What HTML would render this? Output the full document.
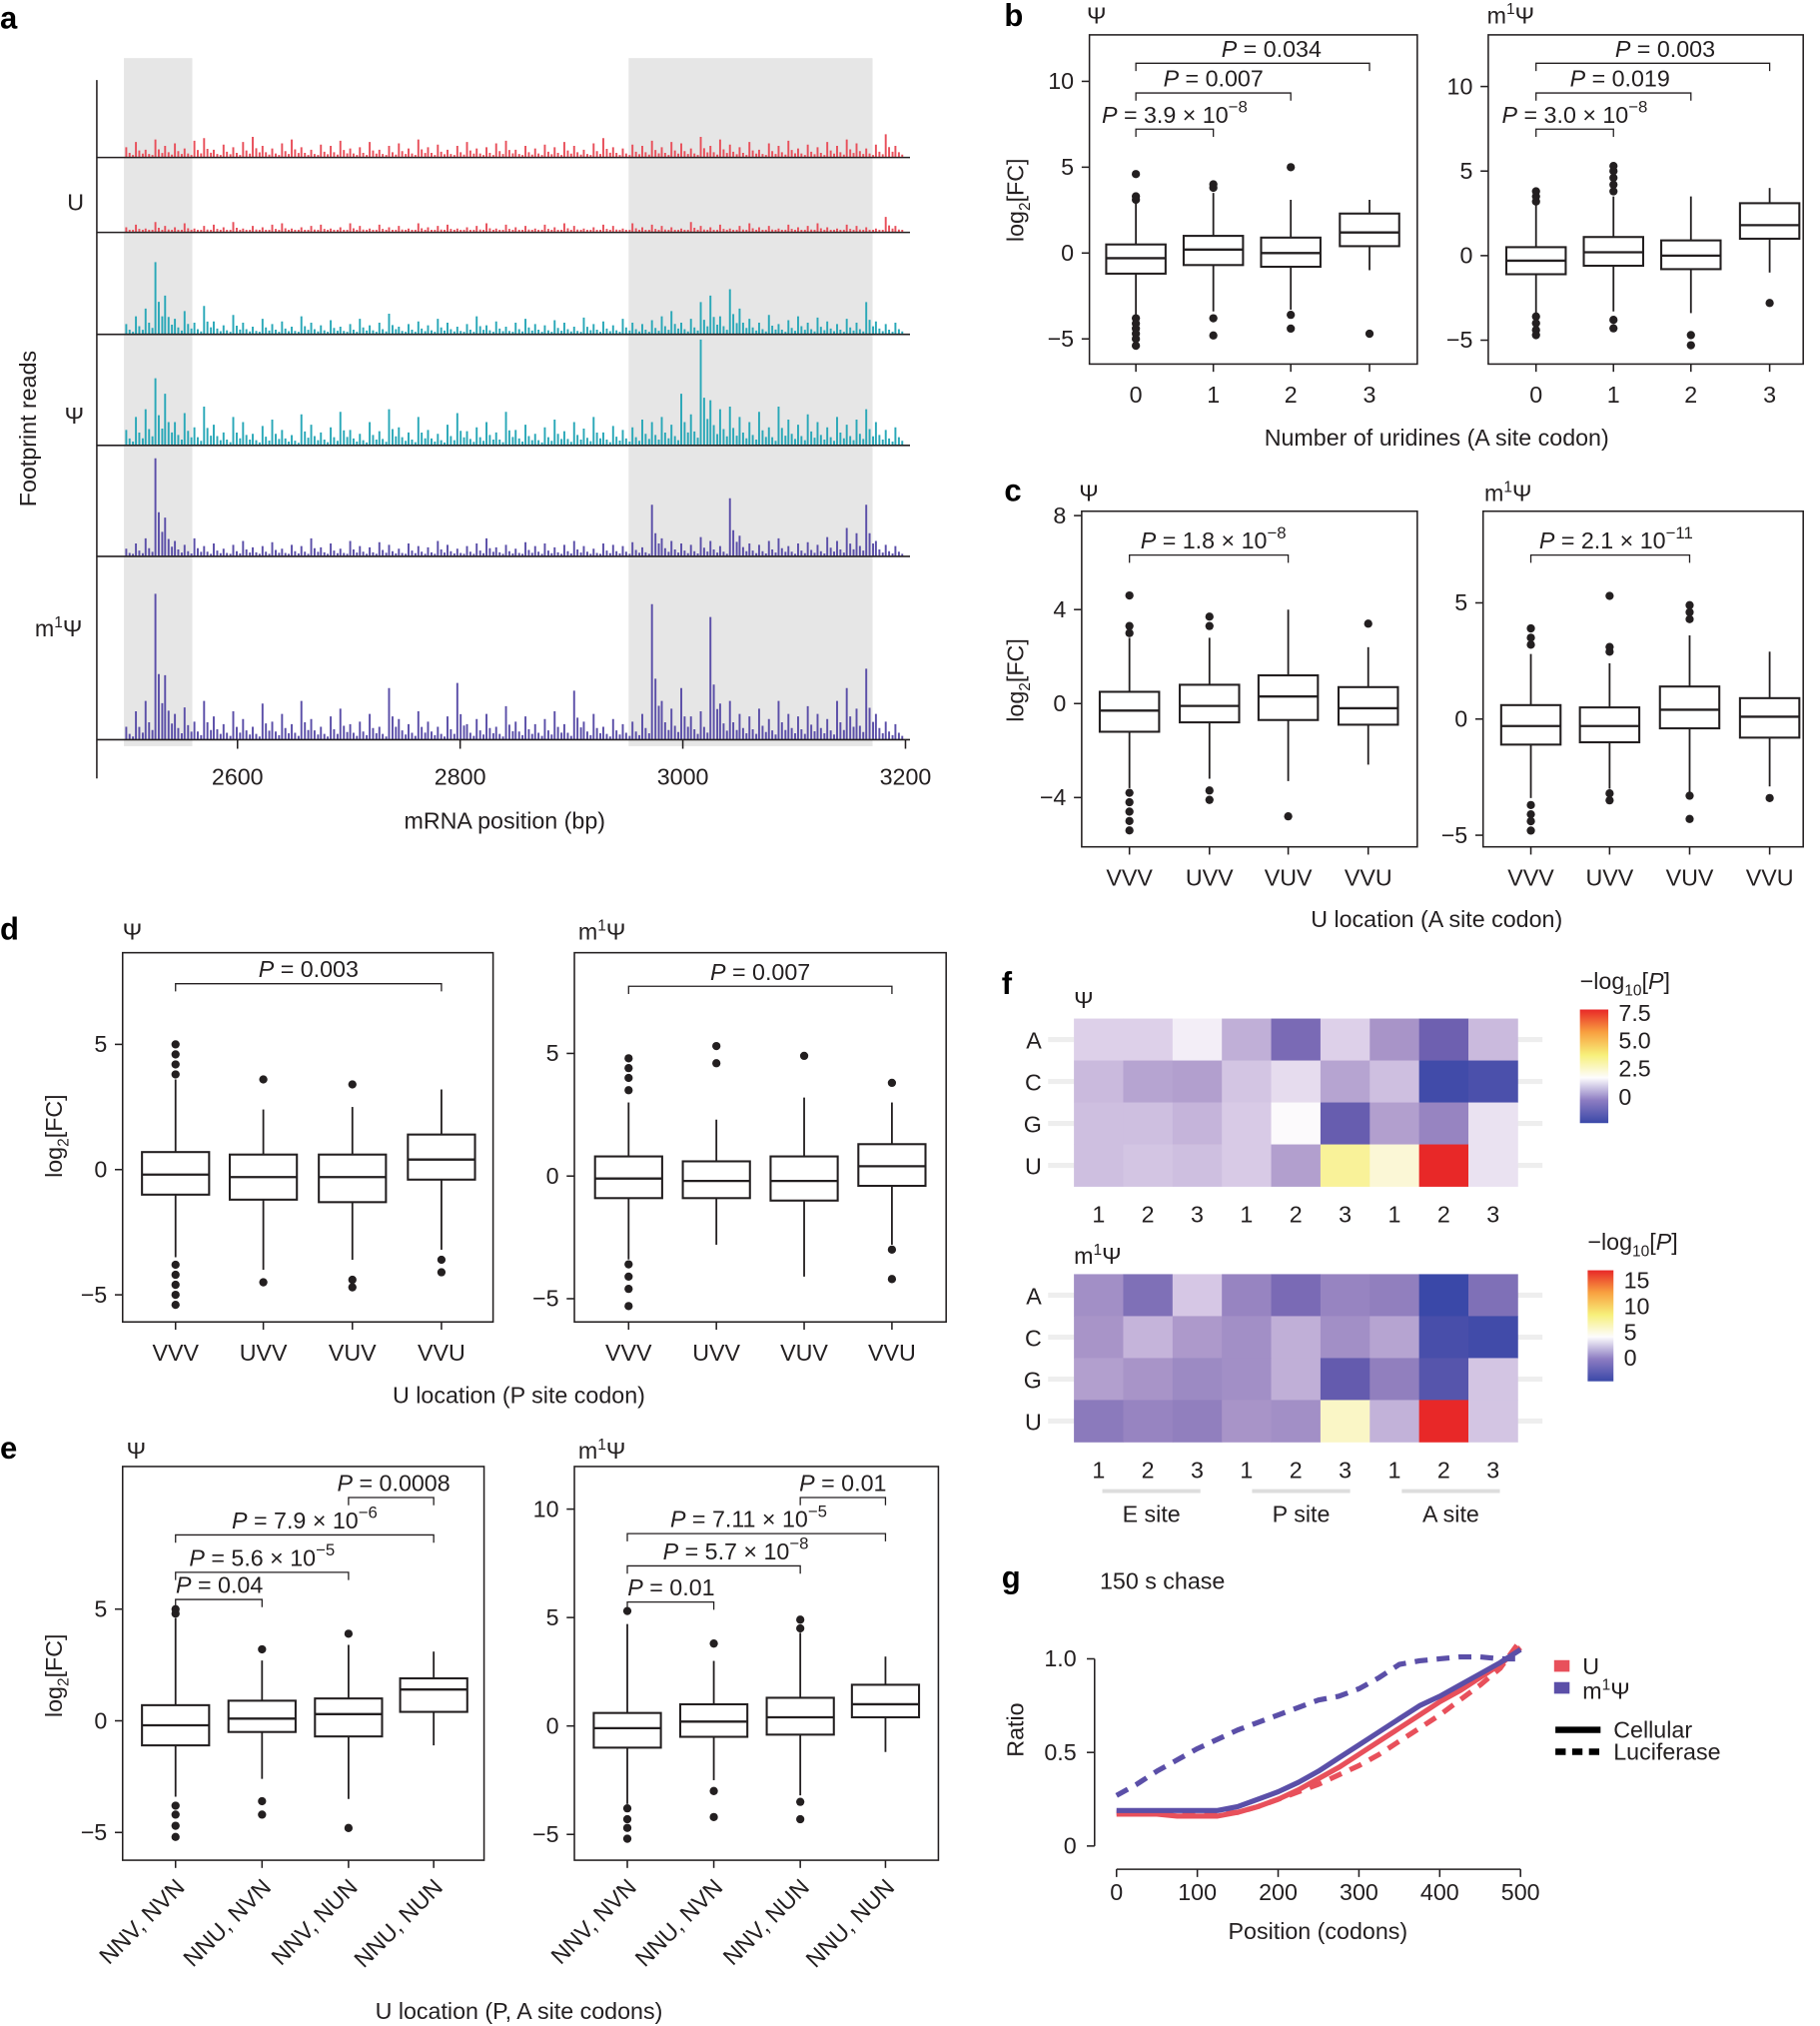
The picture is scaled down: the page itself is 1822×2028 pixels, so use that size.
<!DOCTYPE html>
<html><head><meta charset="utf-8">
<style>
html,body{margin:0;padding:0;background:#fff;}
svg{display:block;font-family:"Liberation Sans",sans-serif;}
</style></head>
<body>
<svg id="fig" width="1822" height="2028" viewBox="0 0 1410 1569.4" xmlns="http://www.w3.org/2000/svg"></svg>
<script>
// ---------- DATA ----------
const trackStart = 2500, trackEnd = 3191;
const trackU1 = [8,12,6,14,9,11,7,13,15,6,10,8,12,16,9,7,11,14,8,6,10,9,13,7,8,12,6,9,11,7,14,8,10,6,9,12,7,8,11,13,6,9,7,10,8,12,9,6,11,15,8,7,10,9,13,8,12,11,7,16,9,14,10,8,12,6,11,9,13,7,10,8,12,9,14,11,7,10,18,9];
const trackU2 = [4,6,3,8,5,4,7,3,5,6,4,8,3,5,4,6,7,3,4,5,6,3,4,7,5,3,6,4,5,3,7,4,5,6,3,4,5,7,3,6,4,5,3,6,4,7,5,3,4,6,5,3,7,4,6,5,4,3,8,5,4,6,3,5,7,4,5,3,6,4,5,7,4,3,6,5,4,3,12,5];
const trackPsi1 = [8,14,20,56,30,12,18,9,22,10,7,15,9,6,12,8,10,6,14,9,7,11,6,8,12,7,9,16,6,8,10,7,12,9,6,8,14,7,10,6,9,12,8,7,11,9,6,13,8,10,7,12,9,8,11,14,18,9,12,25,30,14,35,20,12,9,15,8,11,14,9,13,10,8,12,9,25,10,8,9];
const trackPsi2 = [12,22,28,52,40,18,25,14,30,16,10,22,18,9,15,20,12,8,24,16,10,14,26,12,9,18,11,28,14,10,22,12,9,16,25,11,14,18,10,26,12,16,9,14,20,11,18,13,22,10,15,12,14,20,18,22,16,40,24,82,35,28,30,22,18,26,14,30,20,16,24,18,14,22,16,20,28,18,12,14];
const trackPsi3 = [6,10,14,76,30,12,9,14,8,10,6,9,12,7,8,11,6,9,8,14,7,10,6,12,8,7,11,9,6,10,8,7,12,9,6,8,10,14,7,9,6,11,8,10,7,9,12,8,6,10,9,8,11,7,40,14,12,10,9,15,12,8,45,16,10,9,12,14,8,10,11,9,15,12,22,18,40,12,9,8];
const trackPsi4 = [10,22,30,113,50,20,25,14,30,18,12,22,16,10,28,14,20,12,30,16,10,18,24,12,14,20,10,40,16,12,22,14,10,18,44,12,16,20,10,26,14,18,12,16,22,12,38,14,20,10,16,12,14,20,105,30,24,40,18,22,95,28,30,20,18,24,16,30,20,18,26,20,16,30,40,24,55,20,14,12];
const boxCats4 = ["0","1","2","3"];
const boxCatsVU = ["VVV","UVV","VUV","VVU"];
const boxCatsPA = ["NNV, NVN","NNU, NVN","NNV, NUN","NNU, NUN"];
// stats: [lowWhisker, q1, median, q3, highWhisker]
const bPsiStats = [[-3.6,-1.2,-0.3,0.5,3.0],[-3.4,-0.7,0.2,1.0,3.5],[-3.3,-0.8,0.0,0.9,3.1],[-1.0,0.4,1.2,2.3,3.1]];
const bPsiOut = [[3.1,3.3,4.6,-3.8,-4.1,-4.4,-4.7,-5.0,-5.4],[3.8,4.0,-3.8,-4.8],[5.0,-3.6,-4.4],[-4.7]];
const bM1Stats = [[-3.4,-1.1,-0.3,0.5,3.0],[-3.3,-0.6,0.2,1.1,3.5],[-3.4,-0.8,0.0,0.9,3.5],[-1.0,1.0,1.8,3.1,4.0]];
const bM1Out = [[3.2,3.5,3.8,-3.6,-4.0,-4.4,-4.7],[3.8,4.2,4.6,5.0,5.3,-3.8,-4.3],[-4.7,-5.3],[-2.8]];
const cPsiStats = [[-3.6,-1.2,-0.3,0.5,2.8],[-3.2,-0.8,-0.1,0.8,2.8],[-3.3,-0.7,0.3,1.2,4.0],[-2.6,-0.9,-0.2,0.7,2.4]];
const cPsiOut = [[3.0,3.3,4.6,-3.8,-4.2,-4.6,-5.0,-5.4],[3.3,3.7,-3.7,-4.1],[-4.8],[3.4]];
const cM1Stats = [[-3.4,-1.1,-0.3,0.6,2.8],[-3.0,-1.0,-0.3,0.5,2.4],[-3.2,-0.4,0.4,1.4,3.6],[-2.9,-0.8,0.1,0.9,2.9]];
const cM1Out = [[3.2,3.5,3.9,-3.7,-4.1,-4.4,-4.8],[2.9,3.1,5.3,-3.2,-3.5],[4.3,4.6,4.9,-3.3,-4.3],[-3.4]];
const dPsiStats = [[-3.5,-1.0,-0.2,0.7,3.6],[-4.0,-1.2,-0.3,0.6,2.4],[-3.6,-1.3,-0.3,0.6,2.5],[-3.2,-0.4,0.4,1.4,3.2]];
const dPsiOut = [[3.8,4.2,4.6,5.0,-3.8,-4.2,-4.6,-5.0,-5.4],[3.6,-4.5],[3.4,-4.4,-4.7],[-3.6,-4.1]];
const dM1Stats = [[-3.4,-0.9,-0.1,0.8,3.0],[-2.8,-0.9,-0.2,0.6,2.3],[-4.1,-1.0,-0.2,0.8,3.2],[-2.8,-0.4,0.4,1.3,3.0]];
const dM1Out = [[3.5,4.0,4.4,4.8,-3.6,-4.1,-4.6,-5.3],[4.6,5.3],[4.9],[3.8,-3.0,-4.2]];
const ePsiStats = [[-3.4,-1.1,-0.2,0.7,4.6],[-2.6,-0.5,0.1,0.9,2.7],[-3.5,-0.7,0.3,1.0,3.4],[-1.1,0.4,1.4,1.9,3.1]];
const ePsiOut = [[4.8,5.0,-3.8,-4.2,-4.7,-5.2],[3.2,-3.6,-4.2],[3.9,-4.8],[]];
const eM1Stats = [[-3.6,-1.0,-0.1,0.6,4.7],[-2.5,-0.5,0.2,1.0,3.0],[-3.2,-0.4,0.4,1.3,4.3],[-1.2,0.4,1.0,1.9,3.2]];
const eM1Out = [[5.3,-3.8,-4.3,-4.7,-5.2],[3.8,-3.0,-4.2],[4.5,4.9,-3.5,-4.3],[]];
const heatRows = ["A","C","G","U"];
const heatCols = ["1","2","3","1","2","3","1","2","3"];
const heatPsi = [[0.6,0.6,1.1,0.0,-1.3,0.6,-0.5,-1.5,0.2],[0.2,-0.2,-0.3,0.4,0.8,-0.2,0.3,-2.8,-2.5],[0.3,0.3,0.1,0.5,1.3,-1.7,-0.3,-0.8,0.9],[0.3,0.4,0.3,0.5,-0.3,2.6,1.8,7.5,0.9]];
const heatM1 = [[-0.6,-1.2,0.9,-0.8,-1.3,-0.8,-0.9,-3.0,-1.2],[-0.5,0.2,-0.4,-0.6,0.0,-0.6,-0.2,-2.6,-2.8],[-0.3,-0.5,-0.7,-0.6,0.0,-1.8,-0.9,-2.2,0.8],[-1.0,-0.8,-0.9,-0.5,-0.6,4.0,0.1,15,0.8]];
const chasePos = [0,25,50,75,100,125,150,175,200,225,250,275,300,325,350,375,400,425,450,475,500];
const chaseM1Luc = [0.27,0.33,0.40,0.46,0.52,0.57,0.62,0.66,0.70,0.74,0.78,0.80,0.84,0.90,0.97,0.99,1.00,1.01,1.01,1.00,1.00];
const chaseM1Cell = [0.19,0.19,0.19,0.19,0.19,0.19,0.21,0.25,0.29,0.34,0.40,0.47,0.54,0.61,0.68,0.75,0.80,0.86,0.92,0.98,1.05];
const chaseUCell = [0.17,0.17,0.17,0.16,0.16,0.16,0.18,0.21,0.25,0.30,0.36,0.42,0.49,0.56,0.63,0.70,0.77,0.83,0.90,0.97,1.06];
const chaseULuc = [0.18,0.18,0.18,0.18,0.17,0.17,0.18,0.21,0.25,0.29,0.33,0.38,0.43,0.49,0.56,0.63,0.70,0.78,0.86,0.95,1.10];

// ---------- HELPERS ----------
const NS="http://www.w3.org/2000/svg";
const svg=document.getElementById('fig');
function mk(tag,attrs,parent){const e=document.createElementNS(NS,tag);for(const k in attrs)e.setAttribute(k,attrs[k]);(parent||svg).appendChild(e);return e;}
function txt(x,y,s,opts,parent){const o=Object.assign({x:x,y:y,'font-size':18,fill:'#231f20'},opts||{});const e=mk('text',o,parent);e.textContent=s;return e;}
const INK='#231f20';
function pLabel(x,y,mant,exp,parent){
  const t=mk('text',{x:x,y:y,'font-size':18,fill:INK,'text-anchor':'middle'},parent);
  const a=document.createElementNS(NS,'tspan');a.setAttribute('font-style','italic');a.textContent='P';t.appendChild(a);
  const b=document.createElementNS(NS,'tspan');b.textContent=' = '+mant+(exp?' × 10':'');t.appendChild(b);
  if(exp){const c=document.createElementNS(NS,'tspan');c.setAttribute('dy','-8');c.setAttribute('font-size',13);c.textContent=exp;t.appendChild(c);}
  return t;
}
function panelLetter(x,y,s){const e=txt(x,y,s,{'font-size':24,'font-weight':'bold',fill:'#000'});

}

function boxPanel(name,frame,yTicks,y0,pxPerUnit,catX,cats,stats,outs,bw,brackets,title,labelRot){
  const g=mk('g',{});
  
  
  const ys=v=>y0-v*pxPerUnit;
  const fr=mk('rect',{x:frame[0],y:frame[1],width:frame[2]-frame[0],height:frame[3]-frame[1],fill:'none',stroke:INK,'stroke-width':1.2},g);
  
  
  yTicks.forEach(v=>{
    const y=ys(v);
    mk('line',{x1:frame[0]-6,x2:frame[0],y1:y,y2:y,stroke:INK,'stroke-width':1.2},g);
    const t=txt(frame[0]-12,y+6,v<0?'−'+(-v):String(v),{'text-anchor':'end'},g);
    
    
  });
  cats.forEach((c,i)=>{
    const cx=catX[i];
    mk('line',{x1:cx,x2:cx,y1:frame[3],y2:frame[3]+6,stroke:INK,'stroke-width':1.2},g);
    let t;
    if(labelRot){t=txt(cx+8,frame[3]+22,c,{'text-anchor':'end',transform:'rotate(-45 '+(cx+8)+' '+(frame[3]+22)+')'},g);}
    else t=txt(cx,frame[3]+30,c,{'text-anchor':'middle'},g);
    
    
    const s=stats[i];
    const bg=mk('g',{},g);
    
    
    mk('line',{x1:cx,x2:cx,y1:ys(s[0]),y2:ys(s[1]),stroke:INK,'stroke-width':1.4},bg);
    mk('line',{x1:cx,x2:cx,y1:ys(s[3]),y2:ys(s[4]),stroke:INK,'stroke-width':1.4},bg);
    mk('rect',{x:cx-bw/2,y:ys(s[3]),width:bw,height:ys(s[1])-ys(s[3]),fill:'#fff',stroke:INK,'stroke-width':1.6},bg);
    mk('line',{x1:cx-bw/2,x2:cx+bw/2,y1:ys(s[2]),y2:ys(s[2]),stroke:INK,'stroke-width':1.8},bg);
    outs[i].forEach(v=>{mk('circle',{cx:cx,cy:ys(v),r:3.2,fill:INK},bg);});
  });
  brackets.forEach(b=>{
    const x1=catX[b[0]],x2=catX[b[1]],y=b[2];
    const p=mk('path',{d:`M${x1},${y+6}V${y}H${x2}V${y+6}`,fill:'none',stroke:INK,'stroke-width':1},g);
    
    
    const t=pLabel(b[5]!==undefined?b[5]:(x1+x2)/2,y-5,b[3],b[4],g);
    
    
  });
  const tt=txt(title[1],title[2],'',{'font-size':18},g);
  if(title[0]==='psi'){tt.textContent='Ψ';}
  else{tt.textContent='m';const s1=document.createElementNS(NS,'tspan');s1.setAttribute('dy','-7');s1.setAttribute('font-size',12);s1.textContent='1';tt.appendChild(s1);const s2=document.createElementNS(NS,'tspan');s2.setAttribute('dy','7');s2.textContent='Ψ';tt.appendChild(s2);}
  
  
}
function ylab(x,y){const t=mk('text',{x:0,y:0,'font-size':18,fill:INK,'text-anchor':'middle',transform:`translate(${x},${y}) rotate(-90)`});
  t.textContent='log';const s=document.createElementNS(NS,'tspan');s.setAttribute('dy','5');s.setAttribute('font-size',12);s.textContent='2';t.appendChild(s);
  const s2=document.createElementNS(NS,'tspan');s2.setAttribute('dy','-5');s2.textContent='[FC]';t.appendChild(s2);
  
  }
function xlab(x,y,s){const t=txt(x,y,s,{'text-anchor':'middle'});
  
  }

// ---------- PANEL A ----------
panelLetter(0,22,'a');
const xa=bp=>184+(bp-2600)*0.8625;
const ga=mk('g',{});


[[96,149],[487,676]].forEach(r=>{const e=mk('rect',{x:r[0],y:45,width:r[1]-r[0],height:533,fill:'#e6e6e6'},ga);

});
const tracks=[[trackU1,122,'#e8505b'],[trackU2,180,'#e8505b'],[trackPsi1,259,'#2aa8b8'],[trackPsi2,345,'#2aa8b8'],[trackPsi3,431,'#5b4fa8'],[trackPsi4,573,'#5b4fa8']];
tracks.forEach((tr,ti)=>{
  const arr=tr[0],base=tr[1],col=tr[2];
  const tg=mk('g',{},ga);
  
  
  const step=(trackEnd-trackStart)/(arr.length-1);
  let d='';
  arr.forEach((v,i)=>{const x=xa(trackStart+i*step);d+=`M${x.toFixed(1)},${base}v${-v}`;
    const x2=xa(trackStart+(i+0.35)*step);d+=`M${x2.toFixed(1)},${base}v${-Math.max(2,v*0.45)}`;
    const x3=xa(trackStart+(i+0.7)*step);d+=`M${x3.toFixed(1)},${base}v${-Math.max(2,v*0.25)}`;});
  mk('path',{d:d,stroke:col,'stroke-width':1.5,fill:'none'},tg);
  mk('line',{x1:75,x2:705,y1:base,y2:base,stroke:INK,'stroke-width':1.2},tg);
});
mk('line',{x1:75,x2:75,y1:62,y2:603,stroke:INK,'stroke-width':1.2},ga);
[2600,2800,3000,3200].forEach(v=>{const x=xa(v);mk('line',{x1:x,x2:x,y1:573,y2:580,stroke:INK,'stroke-width':1.2},ga);
  const t=txt(x,608,String(v),{'text-anchor':'middle'},ga);
  
  });
xlab(391,642,'mRNA position (bp)');
{const t=mk('text',{x:0,y:0,'font-size':18,fill:INK,'text-anchor':'middle',transform:'translate(28,332) rotate(-90)'});t.textContent='Footprint reads';

}
[['U',52,163],['Ψ',50,328]].forEach(l=>{const t=txt(l[1],l[2],l[0]);

});
{const t=txt(27,493,'m');const s1=document.createElementNS(NS,'tspan');s1.setAttribute('dy','-7');s1.setAttribute('font-size',12);s1.textContent='1';t.appendChild(s1);const s2=document.createElementNS(NS,'tspan');s2.setAttribute('dy','7');s2.textContent='Ψ';t.appendChild(s2);

}

// ---------- PANEL B ----------
panelLetter(778,20,'b');
boxPanel('panel-b-psi',[844,27,1098,282],[-5,0,5,10],196,13.3,[880,940,1000,1061],boxCats4,bPsiStats,bPsiOut,46,
 [[0,1,100,'3.9','−8',910],[0,2,72,'0.007',''],[0,3,49,'0.034','',985]],['psi',842,18],false);
boxPanel('panel-b-m1psi',[1153,27,1397,282],[-5,0,5,10],198,13.1,[1190,1250,1310,1371],boxCats4,bM1Stats,bM1Out,46,
 [[0,1,100,'3.0','−8',1220],[0,2,72,'0.019','',1255],[0,3,49,'0.003','',1290]],['m1',1152,18],false);
ylab(793,155);
xlab(1113,345,'Number of uridines (A site codon)');

// ---------- PANEL C ----------
panelLetter(778,388,'c');
boxPanel('panel-c-psi',[838,396,1098,656],[-4,0,4,8],545,18.2,[875,937,998,1060],boxCatsVU,cPsiStats,cPsiOut,46,
 [[0,2,430,'1.8','−8',940]],['psi',836,388],false);
boxPanel('panel-c-m1psi',[1149,396,1397,656],[-5,0,5],557,18,[1186,1247,1309,1371],boxCatsVU,cM1Stats,cM1Out,46,
 [[0,2,430,'2.1','−11',1252]],['m1',1150,388],false);
ylab(793,527);
xlab(1113,718,'U location (A site codon)');

// ---------- PANEL D ----------
panelLetter(0,728,'d');
boxPanel('panel-d-psi',[95,738,382,1024],[-5,0,5],906,19.4,[136,204,273,342],boxCatsVU,dPsiStats,dPsiOut,52,
 [[0,3,762,'0.003','']],['psi',95,728],false);
boxPanel('panel-d-m1psi',[445,738,733,1024],[-5,0,5],911,19,[487,555,623,691],boxCatsVU,dM1Stats,dM1Out,52,
 [[0,3,764,'0.007','']],['m1',448,728],false);
ylab(48,880);
xlab(402,1087,'U location (P site codon)');

// ---------- PANEL E ----------
panelLetter(0,1130,'e');
boxPanel('panel-e-psi',[95,1136,375,1441],[-5,0,5],1333,17.3,[136,203,270,336],boxCatsPA,ePsiStats,ePsiOut,52,
 [[0,1,1239,'0.04','',170],[0,2,1218,'5.6','−5'],[0,3,1189,'7.9','−6',236],[2,3,1160,'0.0008','',305]],['psi',98,1130],true);
boxPanel('panel-e-m1psi',[445,1136,727,1441],[-5,0,5,10],1337,16.8,[486,553,620,686],boxCatsPA,eM1Stats,eM1Out,52,
 [[0,1,1241,'0.01','',520],[0,2,1213,'5.7','−8',570],[0,3,1188,'7.11','−5',580],[2,3,1160,'0.01','',653]],['m1',448,1130],true);
ylab(48,1298);
xlab(402,1564,'U location (P, A site codons)');

// ---------- PANEL F ----------
panelLetter(776,770,'f');
function lerp(a,b,t){return a.map((v,i)=>Math.round(v+(b[i]-v)*t));}
const cmStops=[[-3,[58,72,168]],[-1.5,[110,96,176]],[-0.5,[168,148,200]],[0.5,[216,202,230]],[1.3,[252,250,252]],[3,[248,240,122]],[5.5,[248,160,64]],[7.5,[232,40,40]]];
function cmap(v){if(v<=cmStops[0][0])return cmStops[0][1];for(let i=1;i<cmStops.length;i++){if(v<=cmStops[i][0]){const a=cmStops[i-1],b=cmStops[i];return lerp(a[1],b[1],(v-a[0])/(b[0]-a[0]));}}return cmStops[cmStops.length-1][1];}
function heatmap(name,vals,top,maxv,titleY,isM1){
  const g=mk('g',{});
  
  
  const x0=832,cw=38.2,ch=32.5;
  vals.forEach((row,r)=>{
    const rl=txt(807,top+r*ch+ch/2+7,heatRows[r],{'text-anchor':'end'},g);
    
    
    mk('line',{x1:812,x2:1195,y1:top+r*ch+ch/2,y2:top+r*ch+ch/2,stroke:'#eeeeee','stroke-width':4},g);
    row.forEach((v,c)=>{
      const vv=v>0?v*7.5/maxv:v;
      const col=cmap(vv);
      const cell=mk('rect',{x:x0+c*cw,y:top+r*ch,width:cw+0.3,height:ch+0.3,fill:`rgb(${col[0]},${col[1]},${col[2]})`},g);
      
      
    });
  });
  heatCols.forEach((c,i)=>{const t=txt(x0+i*cw+cw/2,top+4*ch+28,c,{'text-anchor':'middle'},g);
    
    });
  const tt=txt(832,titleY,isM1?'m':'Ψ',{},g);
  if(isM1){const s1=document.createElementNS(NS,'tspan');s1.setAttribute('dy','-7');s1.setAttribute('font-size',12);s1.textContent='1';tt.appendChild(s1);const s2=document.createElementNS(NS,'tspan');s2.setAttribute('dy','7');s2.textContent='Ψ';tt.appendChild(s2);}
  
  
}
heatmap('heatmap-psi',heatPsi,789,7.5,781,false);
heatmap('heatmap-m1psi',heatM1,987,15,979,true);
[['E site',892],['P site',1008],['A site',1124]].forEach(s=>{
  mk('line',{x1:s[1]-38,x2:s[1]+38,y1:1155,y2:1155,stroke:'#dddddd','stroke-width':3});
  const t=txt(s[1],1179,s[0],{'text-anchor':'middle'});
  
  });
const defs=mk('defs',{});
const lg=mk('linearGradient',{id:'cg',x1:0,y1:1,x2:0,y2:0},defs);
[[0,'#3a48a8'],[0.2,'#8c7cc2'],[0.4,'#fdfcfd'],[0.6,'#f7f07a'],[0.8,'#f8a040'],[1,'#e82828']].forEach(s=>mk('stop',{offset:s[0],'stop-color':s[1]},lg));
function legend(name,x,y,w,h,titleY,labels,labYs){
  const g=mk('g',{});
  
  
  const t=mk('text',{x:x,y:titleY,'font-size':18,fill:INK},g);
  t.textContent='−log';const s=document.createElementNS(NS,'tspan');s.setAttribute('dy','5');s.setAttribute('font-size',12);s.textContent='10';t.appendChild(s);
  const s2=document.createElementNS(NS,'tspan');s2.setAttribute('dy','-5');s2.textContent='[';t.appendChild(s2);
  const s3=document.createElementNS(NS,'tspan');s3.setAttribute('font-style','italic');s3.textContent='P';t.appendChild(s3);
  const s4=document.createElementNS(NS,'tspan');s4.textContent=']';t.appendChild(s4);
  mk('rect',{x:x,y:y,width:w,height:h,fill:'url(#cg)'},g);
  labels.forEach((l,i)=>{const e=txt(x+w+8,labYs[i]+6,l,{},g);
    
    });
}
legend('legend-psi',1224,782,22,88,766,['7.5','5.0','2.5','0'],[785,806,828,850]);
legend('legend-m1psi',1230,984,20,86,968,['15','10','5','0'],[992,1012,1032,1052]);

// ---------- PANEL G ----------
panelLetter(776,1230,'g');
{const t=txt(852,1231,'150 s chase');}
const gx=p=>865+p*0.626, gy=v=>1430-v*145;
const gg=mk('g',{});


mk('line',{x1:848,x2:848,y1:gy(0),y2:gy(1),stroke:INK,'stroke-width':1.2},gg);
[0,0.5,1.0].forEach(v=>{mk('line',{x1:842,x2:848,y1:gy(v),y2:gy(v),stroke:INK,'stroke-width':1.2},gg);
  const t=txt(834,gy(v)+6,v===0?'0':v.toFixed(1),{'text-anchor':'end'},gg);
  
  });
mk('line',{x1:gx(0),x2:gx(500),y1:1448,y2:1448,stroke:INK,'stroke-width':1.2},gg);
[0,100,200,300,400,500].forEach(v=>{mk('line',{x1:gx(v),x2:gx(v),y1:1448,y2:1454,stroke:INK,'stroke-width':1.2},gg);
  const t=txt(gx(v),1472,String(v),{'text-anchor':'middle'},gg);
  
  });
xlab(1021,1502,'Position (codons)');
{const t=mk('text',{x:0,y:0,'font-size':18,fill:INK,'text-anchor':'middle',transform:'translate(793,1340) rotate(-90)'});t.textContent='Ratio';

}
function line(name,vals,col,dash){
  const d=vals.map((v,i)=>(i?'L':'M')+gx(chasePos[i]).toFixed(1)+','+gy(v).toFixed(1)).join('');
  const p=mk('path',{d:d,fill:'none',stroke:col,'stroke-width':4,'stroke-dasharray':dash?'10,7':'none','stroke-linejoin':'round'},gg);
  
  
}
line('line-u-luciferase',chaseULuc,'#e8505b',true);
line('line-u-cellular',chaseUCell,'#e8505b',false);
line('line-m1psi-luciferase',chaseM1Luc,'#5b4fa8',true);
line('line-m1psi-cellular',chaseM1Cell,'#5b4fa8',false);
{const g=mk('g',{});


mk('rect',{x:1204,y:1286,width:12,height:9,fill:'#e8505b'},g);
txt(1226,1297,'U',{},g);
mk('rect',{x:1204,y:1303,width:12,height:9,fill:'#5b4fa8'},g);
const t=txt(1226,1316,'m',{},g);const s1=document.createElementNS(NS,'tspan');s1.setAttribute('dy','-7');s1.setAttribute('font-size',12);s1.textContent='1';t.appendChild(s1);const s2=document.createElementNS(NS,'tspan');s2.setAttribute('dy','7');s2.textContent='Ψ';t.appendChild(s2);
mk('line',{x1:1205,x2:1240,y1:1340,y2:1340,stroke:'#000','stroke-width':5},g);
txt(1250,1346,'Cellular',{},g);
mk('line',{x1:1205,x2:1240,y1:1357,y2:1357,stroke:'#000','stroke-width':5,'stroke-dasharray':'8,5'},g);
txt(1250,1363,'Luciferase',{},g);}
</script>
</body></html>
